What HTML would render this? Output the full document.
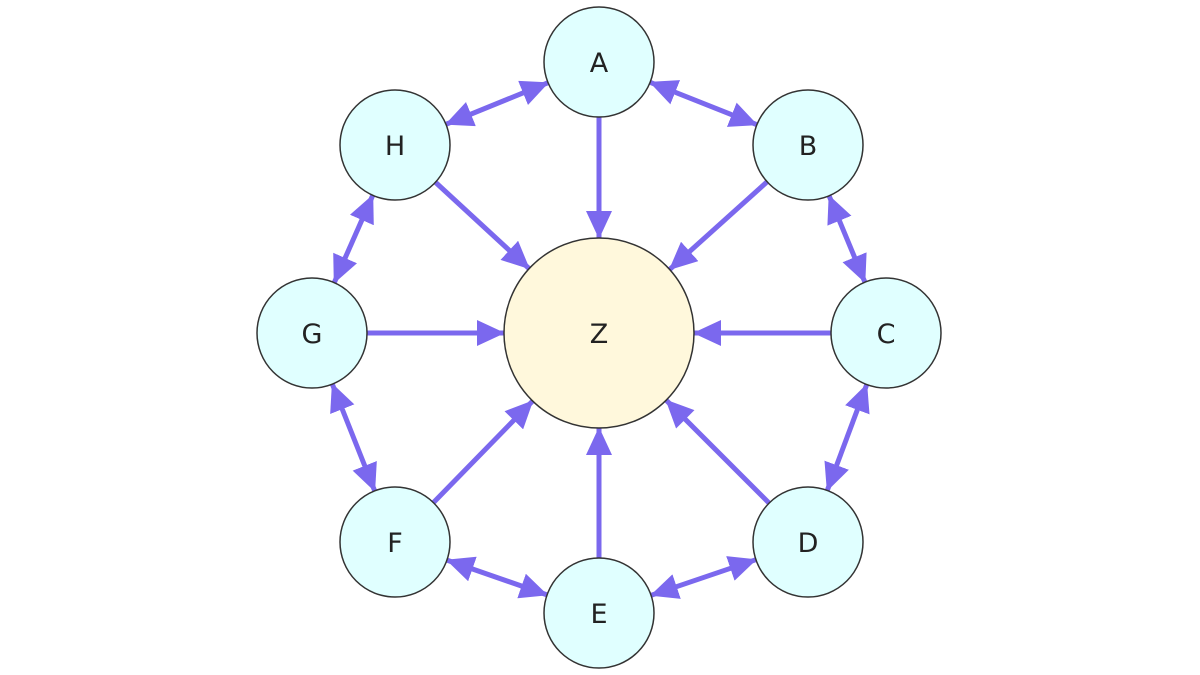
<!DOCTYPE html>
<html><head><meta charset="utf-8"><style>
html,body{margin:0;padding:0;background:#fff;width:1200px;height:675px;overflow:hidden}
text{font-family:"DejaVu Sans","Liberation Sans",sans-serif;font-size:27px;fill:#222}
</style></head><body>
<svg id="s" width="1200" height="675" viewBox="0 0 1200 675" xmlns="http://www.w3.org/2000/svg">
<defs>
<marker id="m" markerUnits="userSpaceOnUse" markerWidth="28" markerHeight="26" refX="27" refY="13" orient="auto-start-reverse">
<path d="M0,0 L28,13 L0,26 z" fill="#7b68ee"/>
</marker>
</defs>
<g id="edges"></g>
<g id="nodes"></g>
</svg>
<script>
var N={A:[599,62,55],B:[808,145,55],C:[886,333,55],D:[808,542,55],E:[599,613,55],F:[395,542,55],G:[312,333,55],H:[395,145,55],Z:[599,333,95]};
var ns="http://www.w3.org/2000/svg";
var eg=document.getElementById('edges'),ng=document.getElementById('nodes');
function line(a,b,both){
 var p=N[a],q=N[b],dx=q[0]-p[0],dy=q[1]-p[1],d=Math.hypot(dx,dy),ux=dx/d,uy=dy/d;
 var l=document.createElementNS(ns,'line');
 l.setAttribute('x1',p[0]+ux*p[2]);l.setAttribute('y1',p[1]+uy*p[2]);
 l.setAttribute('x2',q[0]-ux*q[2]);l.setAttribute('y2',q[1]-uy*q[2]);
 l.setAttribute('stroke','#7b68ee');l.setAttribute('stroke-width','5');
 l.setAttribute('marker-end','url(#m)');
 if(both)l.setAttribute('marker-start','url(#m)');
 eg.appendChild(l);
}
var ring="ABCDEFGH";
for(var i=0;i<8;i++){line(ring[i],'Z',false);line(ring[i],ring[(i+1)%8],true);}
for(var k in N){
 var c=document.createElementNS(ns,'circle');
 c.setAttribute('cx',N[k][0]);c.setAttribute('cy',N[k][1]);c.setAttribute('r',N[k][2]);
 c.setAttribute('fill',k=='Z'?'#fff8dc':'#e0ffff');c.setAttribute('stroke','#333');c.setAttribute('stroke-width','1.5');
 ng.appendChild(c);
 var t=document.createElementNS(ns,'text');
 t.setAttribute('x',N[k][0]);t.setAttribute('y',N[k][1]+10);t.setAttribute('text-anchor','middle');
 t.textContent=k;ng.appendChild(t);
}
</script>
</body></html>
